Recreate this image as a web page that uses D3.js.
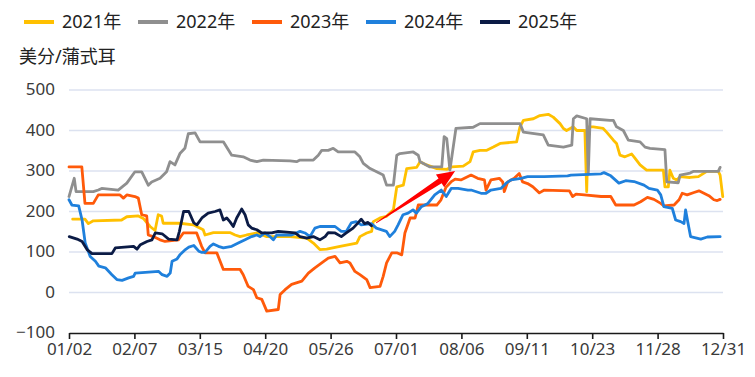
<!DOCTYPE html>
<html>
<head>
<meta charset="utf-8">
<script src="https://cdn.jsdelivr.net/npm/d3@7"></script>
<style>
  body { margin: 0; background: #fff; }
  svg { display: block; font-family: "Noto Sans", "Noto Sans CJK SC", sans-serif; }
</style>
</head>
<body>
<div id="chart"></div>
<script>
// x = trading-day index (0 -> 01/02, 250 -> 12/31), y = 美分/蒲式耳
const tickDays = [0, 25, 50, 75, 100, 125, 150, 175, 200, 225, 250];
const tickLabels = ["01/02", "02/07", "03/15", "04/20", "05/26", "07/01", "08/06", "09/11", "10/23", "11/28", "12/31"];
const yTicks = [-100, 0, 100, 200, 300, 400, 500];

const seriesNames = ["2021年", "2022年", "2023年", "2024年", "2025年"];
const seriesColors = ["#ffc000", "#8f8f8f", "#ff5a0a", "#1f80dc", "#0b1b45"];

const s2021 = [[1.4,181],[6.1,181],[7.4,170],[9.3,177],[20.1,179],[22.1,187],[26.5,189],[28.4,183],[31,163],[32.9,153],
  [34.1,192],[35.4,189],[36,171],[42.4,171],[47.5,167],[51.3,155],[52,142],[55.2,148],[61.5,148],[63.5,142],[65.4,138],
  [67.9,142],[71.8,147],[75.6,138],[84.5,138],[90.9,134],[93.4,122],[95.9,106],[98.5,107],[103.6,114],[110,122],
  [111.2,138],[113.8,147],[115.7,151],[116.3,175],[118.9,184],[121.4,188],[124,204],[125.3,261],[127.8,265],[129.1,306],
  [132.9,309],[134.2,323],[136.7,315],[140.6,306],[144.4,304],[146.3,310],[150.7,312],[153.3,323],[154.5,347],[157.1,351],
  [159.7,351],[162.2,359],[164.8,368],[171.1,372],[172.4,409],[173.7,425],[177.5,429],[180,437],[183.2,440],[185.1,433],
  [187.7,417],[189,405],[190.2,400],[192.8,409],[194.1,400],[197.2,400],[197.9,249],[198.5,409],[200.4,409],[204.2,405],
  [205.5,396],[208.1,376],[209.3,368],[210.6,339],[212.5,335],[215.1,342],[216.4,331],[218.3,315],[220.8,302],[227.2,302],
  [227.8,261],[229.1,261],[229.7,302],[231,282],[232.3,278],[233.6,286],[237.4,284],[240.6,286],[243.8,299],[248.2,299],
  [248.9,290],[249.9,237]];

const s2022 = [[0,237],[2,282],[2.7,249],[9.3,249],[11.2,253],[12.5,257],[18.8,253],[22.1,270],[25.2,298],[27.8,298],
  [30.3,265],[31.6,273],[34.8,282],[37.3,298],[38.6,323],[40.5,315],[42.4,343],[44.3,356],[45.6,392],[48.2,394],[50.1,372],
  [59,372],[62.2,339],[66.6,335],[69.2,327],[71.8,323],[74.3,327],[84.5,325],[87,323],[88.3,327],[93.4,327],[95.3,339],
  [96.6,351],[99.1,351],[101,356],[102.9,347],[109.3,347],[111.2,335],[112.5,319],[115.1,306],[117.6,298],[120.1,290],
  [121.4,265],[124,265],[125.3,339],[126.5,343],[131.6,347],[133.5,339],[134.2,323],[138,310],[142.5,310],[143.4,385],
  [144.4,380],[145.6,302],[147.9,405],[154.5,408],[157.1,417],[172.4,417],[173.7,396],[181.3,389],[183.2,364],[189,359],
  [192.2,364],[192.8,429],[194.1,436],[197.9,429],[198.5,292],[199.2,429],[206.8,425],[208.1,425],[209.3,409],[211.9,400],
  [213.8,376],[218.3,372],[220.2,359],[222.1,356],[227.8,353],[228.5,273],[232.9,271],[233.6,290],[237.4,295],[238.6,299],
  [248.2,299],[248.9,309]];

const s2023 = [[0,310],[4.9,310],[6.1,220],[9.3,220],[11.2,241],[19.5,241],[20.8,233],[22.1,241],[25.2,237],[26.5,233],
  [27.8,192],[29.7,189],[30.3,142],[32.2,138],[34.8,130],[36.7,126],[41.8,130],[43.7,147],[48.8,147],[50.7,114],[52,98],
  [56.5,98],[59,57],[65.4,57],[66.6,44],[68.5,15],[70.5,7],[71.8,-13],[73.7,-17],[75.6,-46],[80,-42],[80.7,-5],[82.6,7],
  [85.1,20],[89,28],[91.5,48],[94,61],[96.6,73],[99.1,85],[101.7,89],[103.6,73],[106.2,77],[107.4,73],[109.3,52],
  [111.2,44],[113.8,32],[115.1,12],[118.9,15],[120.1,40],[121.4,73],[123.4,98],[125.3,98],[127.2,93],[128.4,147],
  [130.4,184],[132.3,184],[133.5,216],[140.6,216],[142.2,229],[144.1,260],[146,273],[147.6,280],[149.8,278],[153.7,290],
  [156.2,282],[158.8,278],[159.4,253],[161.3,278],[164.5,282],[165.8,273],[166.4,249],[167.7,273],[170.2,282],[172.1,294],
  [173.4,273],[175.3,269],[177.3,261],[179.8,246],[181.7,253],[191.3,251],[192.5,237],[193.8,243],[197,241],[203.4,237],
  [207.1,237],[209,216],[216,216],[218.5,224],[221.1,235],[223.6,230],[226.2,220],[227.4,214],[231.3,216],[233.2,229],
  [234.4,245],[236.3,241],[238.9,247],[240.8,251],[242.7,245],[244.6,239],[246.5,229],[247.8,227],[248.9,230]];

const s2024 = [[0,229],[1.1,216],[3.7,214],[5,179],[6.2,122],[8.1,89],[10.1,77],[11.4,65],[13.9,61],[16.4,44],[18.3,32],
  [20.3,30],[22.8,36],[24.7,40],[25.3,48],[34.3,52],[35.6,44],[37.5,40],[38.7,48],[39.4,77],[41.3,83],[42.5,94],[44.5,106],
  [45.8,112],[47.7,116],[49.6,102],[50.8,99],[52,99],[53.9,114],[55.2,120],[57.1,114],[59,110],[62.2,114],[64.7,122],
  [67.3,130],[69.8,138],[71.8,142],[73,138],[74.9,147],[76.8,138],[78.1,130],[79.4,142],[85.1,142],[88.3,151],[90.2,147],
  [92.1,138],[94,159],[95.9,163],[101.7,163],[104.1,151],[106,151],[107.9,172],[109.8,175],[111.7,167],[115.6,170],
  [117.5,159],[121.3,151],[122.6,138],[124.5,151],[125.8,167],[127.7,192],[129.6,196],[131.5,204],[132.8,196],[134.7,212],
  [137.2,220],[139.8,241],[142.3,253],[144.2,237],[146.1,257],[148.7,257],[152.5,253],[153.7,253],[157.5,245],[159.4,245],
  [161.3,253],[165.1,257],[167.1,270],[169,278],[172.8,282],[175.3,286],[181.7,286],[190.6,288],[191.9,290],[203.4,293],
  [204.5,296],[207.1,288],[210.2,270],[212.8,276],[216,274],[219.8,265],[221.7,257],[224.9,253],[226.2,241],[227.4,212],
  [230.6,208],[231.9,179],[233.8,175],[235.1,170],[235.7,204],[236.6,172],[237.6,138],[241.5,132],[244,137],[248.9,138]];

const s2025 = [[0.1,138],[3.1,132],[5,126],[6.9,106],[8.8,96],[16.4,96],[17.7,110],[24.7,114],[26,107],[27.3,118],
  [29.8,126],[31.7,130],[33,147],[35.6,145],[38.1,132],[41.3,130],[42.2,151],[43.8,200],[45.8,200],[47.7,172],[48.9,167],
  [50.8,184],[53.2,196],[55.8,200],[57.7,204],[59,179],[60.3,184],[61.5,175],[62.8,163],[64.1,184],[66,206],[67.3,192],
  [68.5,167],[69.8,159],[71.8,155],[73.7,147],[77.5,147],[80,151],[86.4,147],[88.3,138],[90.9,134],[93.4,138],[95.9,130],
  [97.9,138],[99.1,148],[101.7,147],[104.1,138],[106,147],[108.6,159],[110.5,172],[111.7,181],[113,170],[114.3,173],
  [115.6,165]];

const seriesData = [s2021, s2022, s2023, s2024, s2025];

// red annotation arrow: from / to in data units
const arrowFrom = [117.4, 172];
const arrowTo = [147.6, 300];

const width = 755, height = 377;

const svg = d3.select('#chart').append('svg')
    .attr('width', width)
    .attr('height', height);

svg.append('rect').attr('width', width).attr('height', height).attr('fill', '#fff');

const x = d3.scaleLinear().domain([0, 250]).range([69, 723]);
const y = d3.scaleLinear().domain([-100, 500]).range([333, 90]);

// gridlines (skip the bottom one, the axis sits there)
svg.append('g')
    .selectAll('line')
    .data(yTicks.filter(d => d > -100))
    .join('line')
    .attr('x1', x(0))
    .attr('x2', x(250))
    .attr('y1', d => y(d))
    .attr('y2', d => y(d))
    .attr('stroke', '#dce2f0')
    .attr('stroke-width', 1.5);

// y tick labels
const yAxis = svg.append('g')
    .attr('transform', `translate(${x(0) - 4},0)`)
    .call(d3.axisLeft(y).tickValues(yTicks).tickSize(0).tickPadding(10));
yAxis.select('.domain').remove();
yAxis.selectAll('text')
    .attr('font-size', 17)
    .attr('font-family', '"Noto Sans", sans-serif')
    .attr('fill', '#3a3a3a')
    .attr('dy', '0.28em');

// x axis
const xAxis = svg.append('g')
    .attr('transform', `translate(0,${y(-100)})`)
    .call(d3.axisBottom(x)
        .tickValues(tickDays)
        .tickFormat((d, i) => tickLabels[i])
        .tickSize(6)
        .tickSizeOuter(0)
        .tickPadding(4));
xAxis.select('.domain').attr('stroke', '#1a1a1a').attr('stroke-width', 1.6);
xAxis.selectAll('.tick line').attr('stroke', '#1a1a1a').attr('stroke-width', 1.6);
xAxis.selectAll('text')
    .attr('font-size', 17)
    .attr('font-family', '"Noto Sans", sans-serif')
    .attr('fill', '#3a3a3a');

// series lines
const line = d3.line()
    .x(d => x(d[0]))
    .y(d => y(d[1]));

svg.append('g')
    .selectAll('path')
    .data(seriesData)
    .join('path')
    .attr('d', line)
    .attr('fill', 'none')
    .attr('stroke', (d, i) => seriesColors[i])
    .attr('stroke-width', 2.8)
    .attr('stroke-linejoin', 'round')
    .attr('stroke-linecap', 'round');

// arrow, tapered shaft with a solid head
(function drawArrow() {
    const x0 = x(arrowFrom[0]), y0 = y(arrowFrom[1]);
    const x1 = x(arrowTo[0]), y1 = y(arrowTo[1]);
    const len = Math.hypot(x1 - x0, y1 - y0);
    const ux = (x1 - x0) / len, uy = (y1 - y0) / len;
    const nx = -uy, ny = ux;
    const headLen = 18, headHalf = 7.5, tailHalf = 0.4, neckHalf = 2.8;
    const bx = x1 - ux * headLen, by = y1 - uy * headLen;
    const pts = [
        [x0 + nx * tailHalf, y0 + ny * tailHalf],
        [bx + nx * neckHalf, by + ny * neckHalf],
        [bx + nx * headHalf, by + ny * headHalf],
        [x1, y1],
        [bx - nx * headHalf, by - ny * headHalf],
        [bx - nx * neckHalf, by - ny * neckHalf],
        [x0 - nx * tailHalf, y0 - ny * tailHalf]
    ];
    svg.append('path')
        .attr('d', 'M' + pts.map(p => p.join(',')).join('L') + 'Z')
        .attr('fill', '#ff0000');
})();

// y title
svg.append('text')
    .attr('x', 19)
    .attr('y', 63)
    .attr('font-size', 18)
    .attr('fill', '#222')
    .text('美分/蒲式耳');

// legend
const legend = svg.append('g')
    .selectAll('g')
    .data(seriesNames)
    .join('g')
    .attr('transform', (d, i) => `translate(${24 + i * 114},22)`);

legend.append('line')
    .attr('x1', 0).attr('x2', 30)
    .attr('stroke', (d, i) => seriesColors[i])
    .attr('stroke-width', 4);

legend.append('text')
    .attr('x', 38)
    .attr('y', 6)
    .attr('font-size', 18)
    .attr('fill', '#222')
    .text(d => d);
</script>
</body>
</html>
